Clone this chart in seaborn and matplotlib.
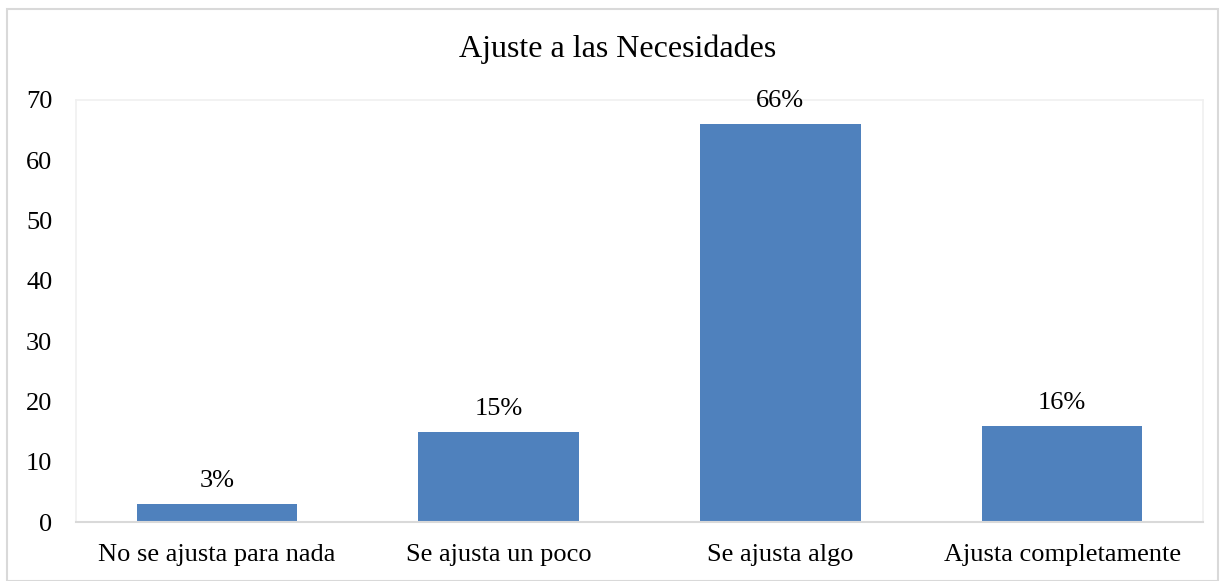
import matplotlib
matplotlib.use('Agg')
import matplotlib.pyplot as plt
import seaborn as sns
import pandas as pd
from matplotlib.patches import Rectangle

# Data
categories = ['No se ajusta para nada', 'Se ajusta un poco', 'Se ajusta algo', 'Ajusta completamente']
values = [3, 15, 66, 16]
labels = ['3%', '15%', '66%', '16%']

sns.set_style('white')
plt.rcParams['font.family'] = ['Liberation Serif', 'DejaVu Serif']
plt.rcParams['text.color'] = 'black'
plt.rcParams['xtick.color'] = 'black'
plt.rcParams['ytick.color'] = 'black'

df = pd.DataFrame({'categoria': categories, 'valor': values})

fig = plt.figure(figsize=(12.23, 5.81), dpi=100)
ax = fig.add_axes([0.0621, 0.1015, 0.9215, 0.7264])

sns.barplot(data=df, x='categoria', y='valor', color='#4F81BD', saturation=1,
            width=0.57, linewidth=0, ax=ax)

for i, (v, lab) in enumerate(zip(values, labels)):
    ax.text(i, v + 2.0, lab, ha='center', va='bottom', fontsize=19)

ax.set_ylim(0, 70)
ax.set_yticks(range(0, 71, 10))
ax.set_xlim(-0.5, 3.5)
ax.set_xlabel('')
ax.set_ylabel('')
ax.tick_params(axis='both', labelsize=19, length=0)
ax.tick_params(axis='y', pad=17)
ax.tick_params(axis='x', pad=16)

for side in ['top', 'left', 'right']:
    ax.spines[side].set_color('#F0F0F0')
    ax.spines[side].set_linewidth(1.2)
ax.spines['bottom'].set_color('#D9D9D9')
ax.spines['bottom'].set_linewidth(1.5)

fig.text(0.505, 0.915, 'Ajuste a las Necesidades', ha='center', va='center', fontsize=23)

# outer chart border
fig.patches.append(Rectangle((0.006, 0.0), 0.99, 0.985, transform=fig.transFigure,
                             fill=False, edgecolor='#D9D9D9', linewidth=1.5))

fig.savefig('out.png', dpi=100)
